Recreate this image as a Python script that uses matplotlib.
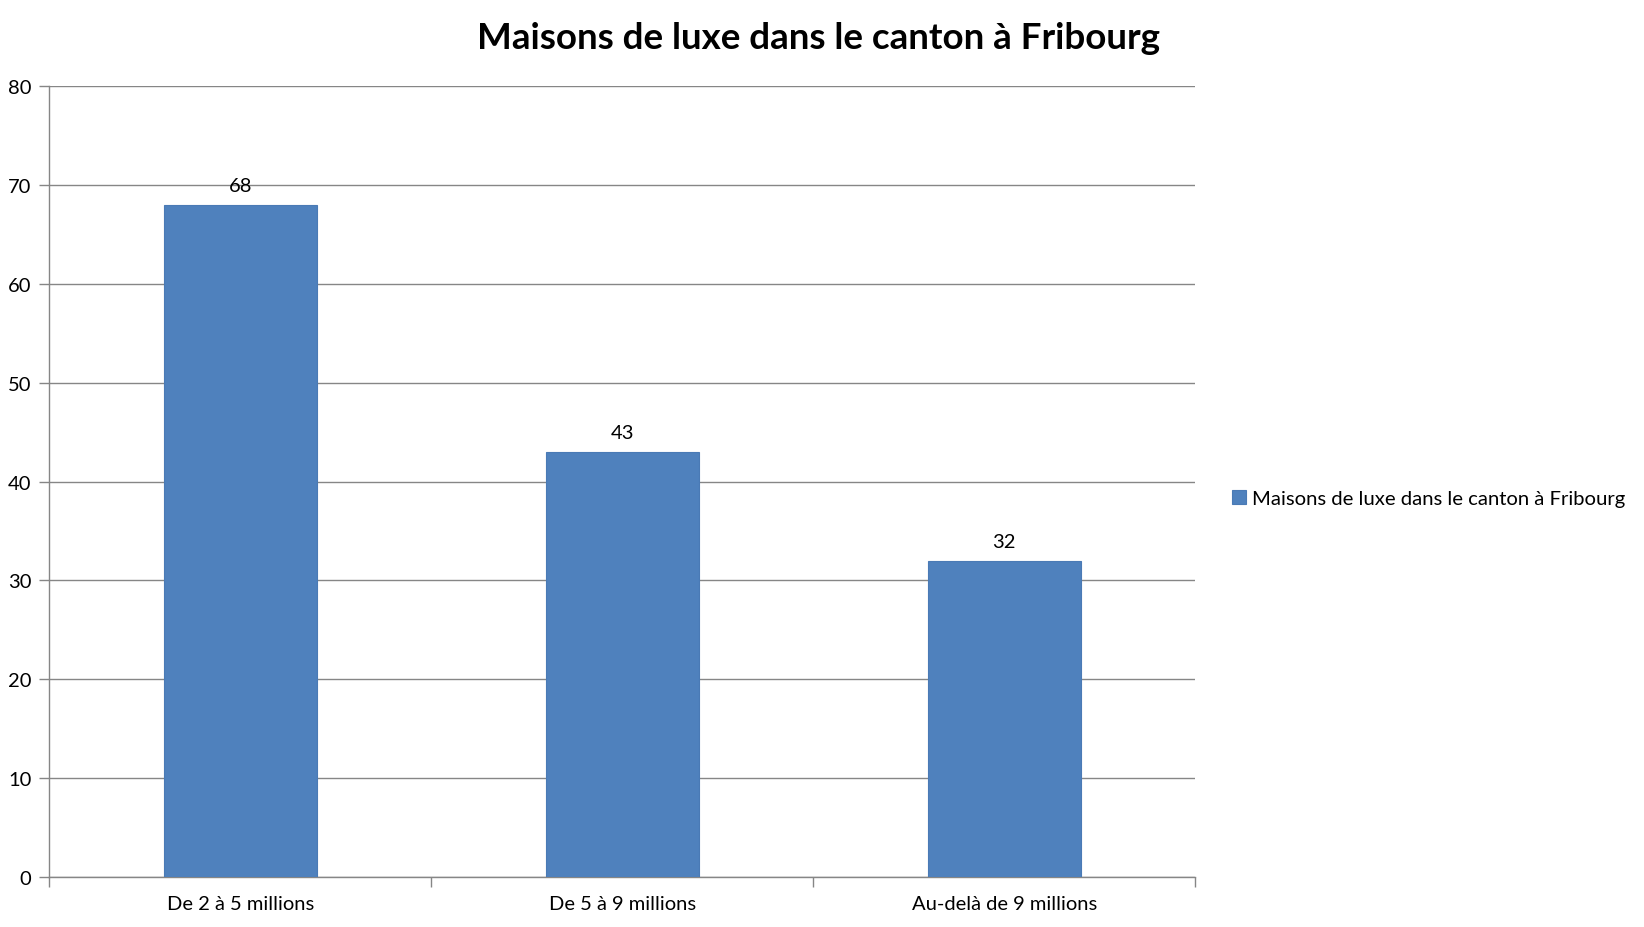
import matplotlib.pyplot as plt
import numpy as np

plt.rcParams['font.family'] = ['Lato', 'DejaVu Sans']

title = "Maisons de luxe dans le canton à Fribourg"
categories = ["De 2 à 5 millions", "De 5 à 9 millions", "Au-delà de 9 millions"]
values = [68, 43, 32]
yticks = [0, 10, 20, 30, 40, 50, 60, 70, 80]

bar_color = "#4F81BD"
grid_color = "#868686"

fig = plt.figure(figsize=(16.44, 9.28), dpi=100)
ax = fig.add_axes([0.030, 0.054, 0.697, 0.852])

x = np.arange(len(categories))
bars = ax.bar(x, values, width=0.40, color=bar_color, edgecolor="#4A7AB5",
              linewidth=0.8, zorder=3, label=title)

for xi, v in zip(x, values):
    ax.annotate(str(v), (xi, v), xytext=(0, 8), textcoords="offset points",
                ha="center", va="bottom", fontsize=14.5, color="black")

ax.set_xlim(-0.5, len(categories) - 0.5)
ax.set_ylim(0, 80)
ax.set_yticks(yticks)
ax.yaxis.grid(True, color=grid_color, linewidth=1.0, zorder=0)

# category boundary ticks (major) and labels at centers (minor)
ax.set_xticks(np.arange(-0.5, len(categories), 1.0))
ax.set_xticklabels([])
ax.set_xticks(x, minor=True)
ax.set_xticklabels(categories, minor=True)
ax.tick_params(axis="x", which="major", length=7, color=grid_color, width=1)
ax.tick_params(axis="x", which="minor", length=0, pad=13, labelsize=14.5)
ax.tick_params(axis="y", length=7, color=grid_color, width=1, labelsize=14.5, pad=6)

for s in ["top", "right"]:
    ax.spines[s].set_visible(False)
for s in ["left", "bottom"]:
    ax.spines[s].set_color(grid_color)
    ax.spines[s].set_linewidth(1.0)

fig.text(0.498, 0.958, title, ha="center", va="center", fontsize=26.5,
         fontweight="bold")

fig.legend(handles=[bars], labels=[title], loc="center left",
           bbox_to_anchor=(0.738, 0.462), frameon=False, fontsize=14.6,
           handlelength=0.7, handleheight=0.7, handletextpad=0.3)

fig.savefig("out.png", dpi=100)
